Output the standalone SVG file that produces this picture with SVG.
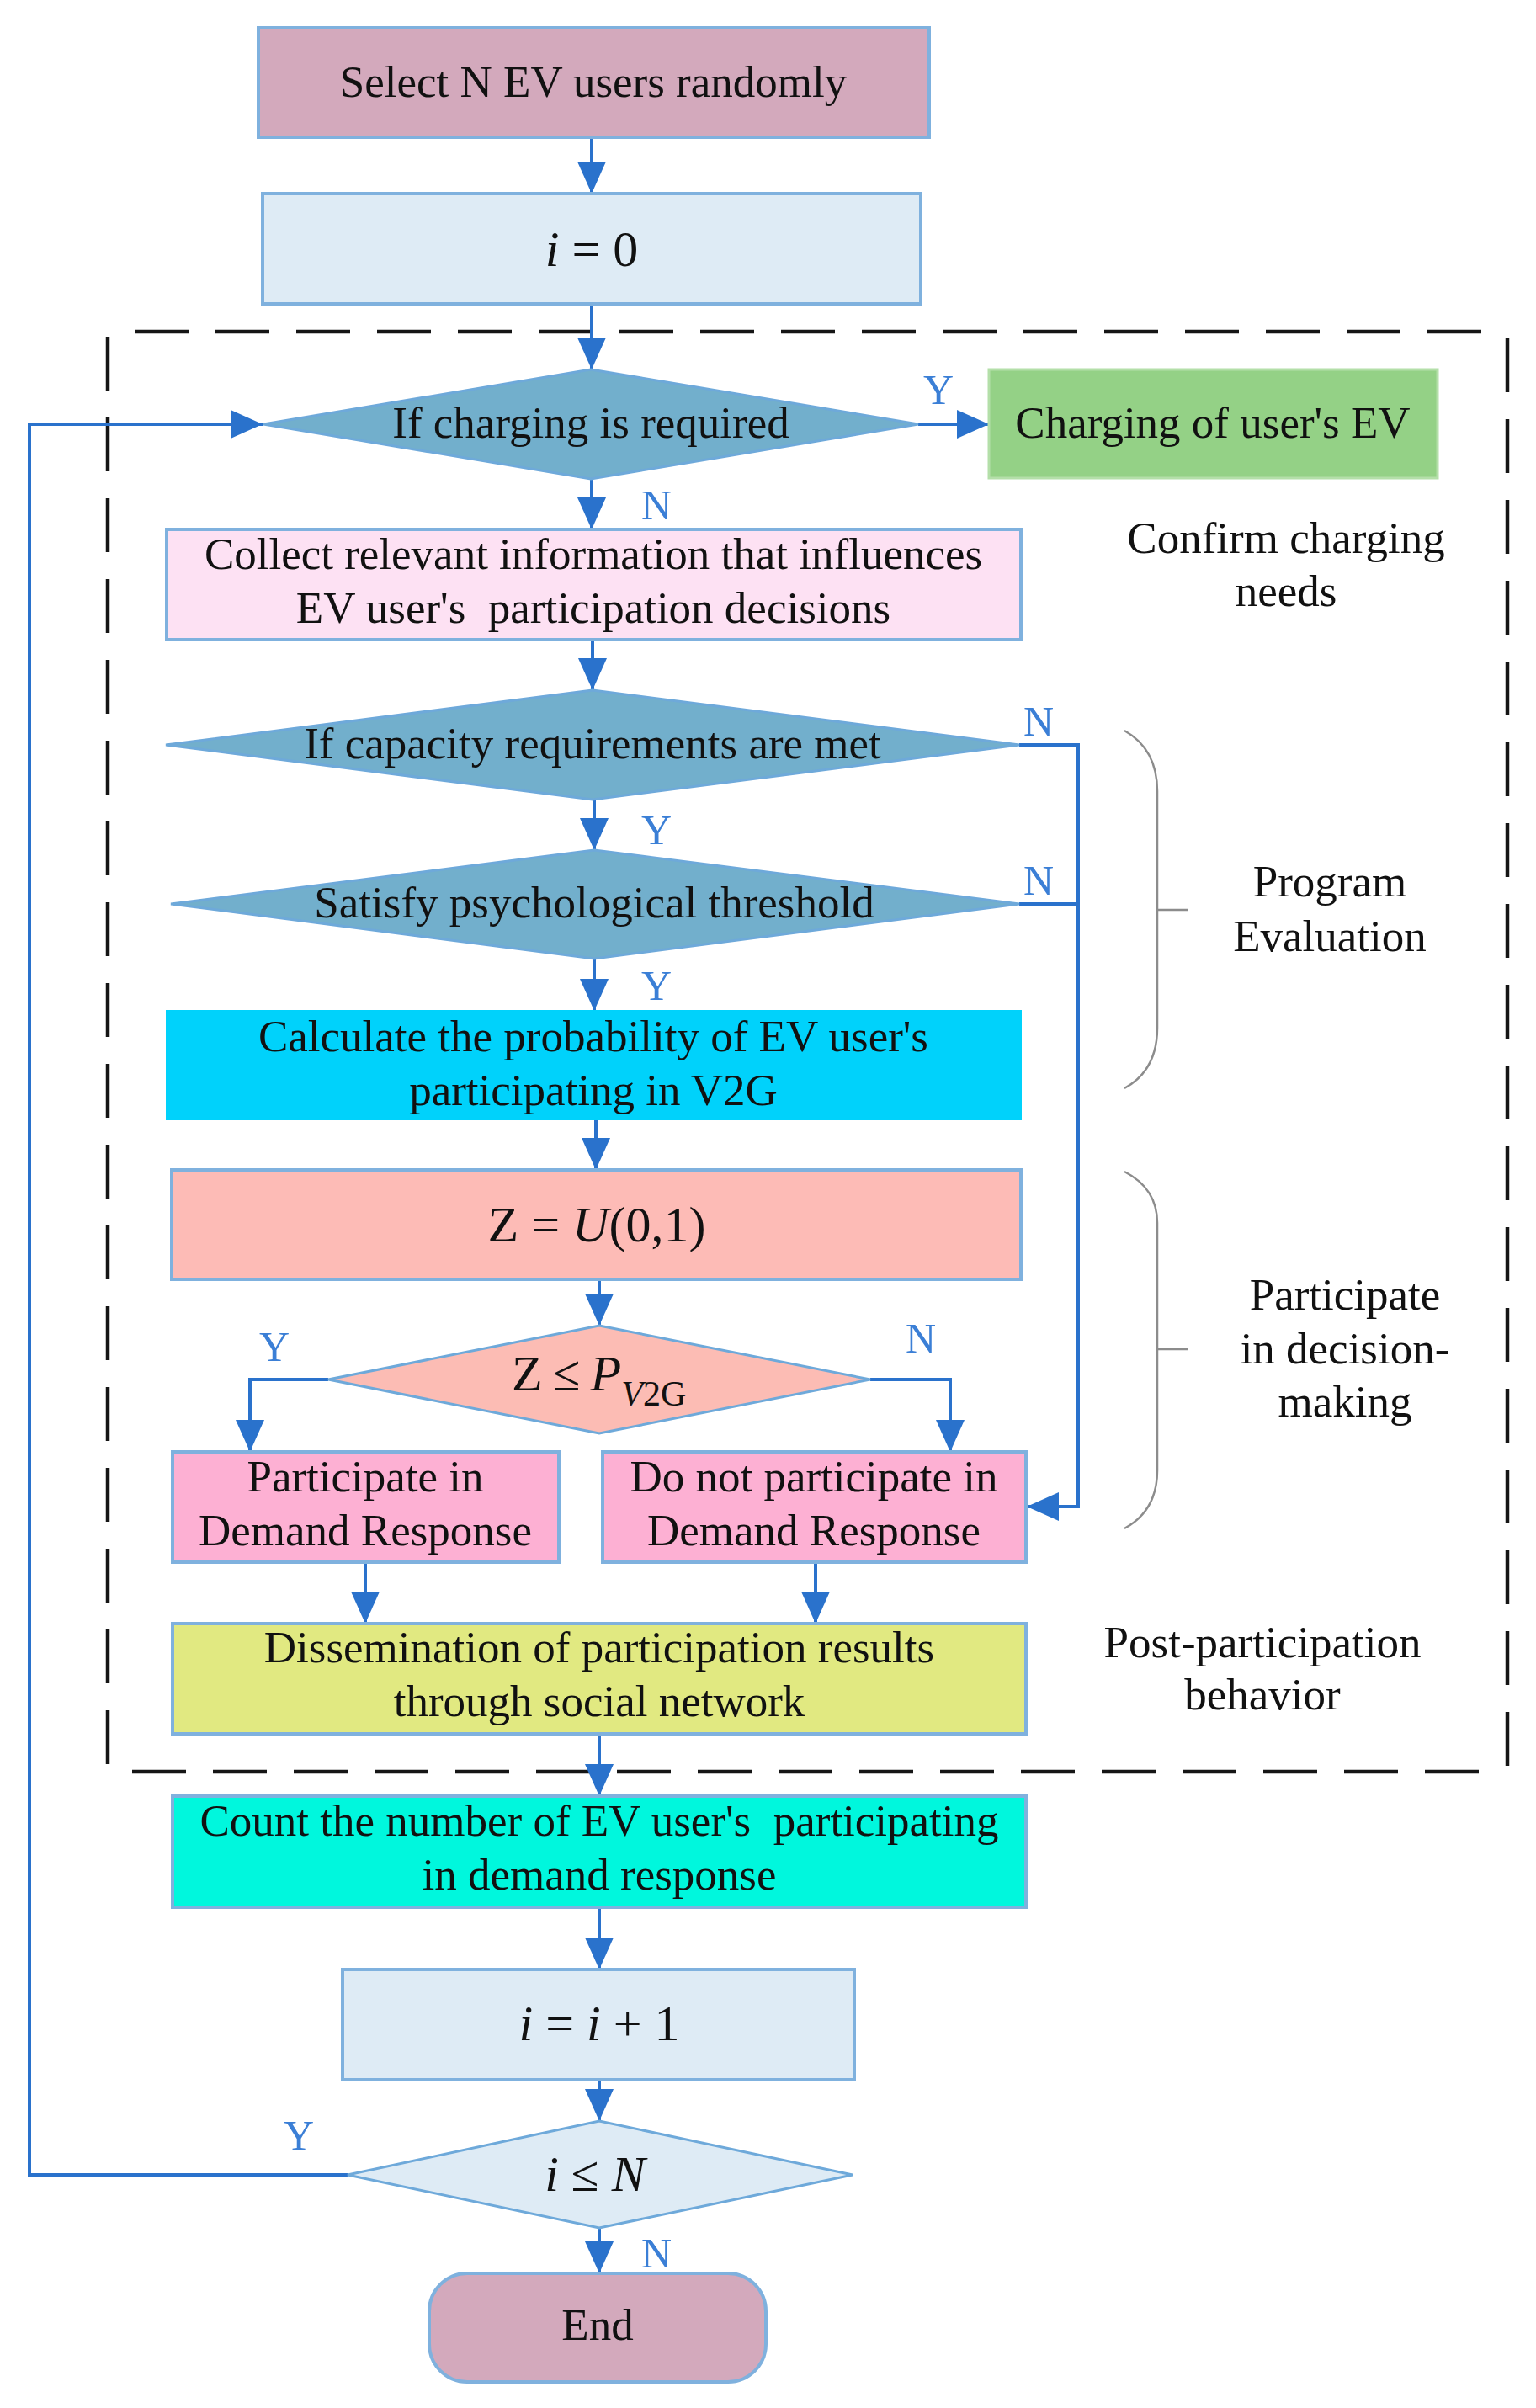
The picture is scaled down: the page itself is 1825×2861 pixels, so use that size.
<svg xmlns="http://www.w3.org/2000/svg" width="1825" height="2861" viewBox="0 0 1825 2861">
<defs>
<marker id="arr" markerUnits="userSpaceOnUse" markerWidth="40" markerHeight="36" viewBox="0 0 40 36" refX="38" refY="18" orient="auto">
<path d="M0,1 L38,18 L0,35 z" fill="#2a72cc"/>
</marker>
<style>
.t{font-family:"Liberation Serif","Times New Roman",serif;font-size:53px;fill:#111;text-anchor:middle}
.m{font-family:"Liberation Serif","Times New Roman",serif;font-size:60px;fill:#111;text-anchor:middle}
.lb{font-family:"Liberation Serif","Times New Roman",serif;font-size:50px;fill:#3b7fd6;text-anchor:middle}
.box{stroke:#7fb1de;stroke-width:4}
.dia{stroke:#6ea9da;stroke-width:3}
.c{fill:none;stroke:#2a72cc;stroke-width:4}
.ca{fill:none;stroke:#2a72cc;stroke-width:4;marker-end:url(#arr)}
.dash{fill:none;stroke:#151515;stroke-width:4.5;stroke-dasharray:64 32}
.brace{fill:none;stroke:#8c8c8c;stroke-width:2.5}
</style>
</defs>
<rect width="1825" height="2861" fill="#ffffff"/>

<g id="frame">
<line class="dash" x1="160" y1="394" x2="1767" y2="394"/>
<line class="dash" x1="128" y1="400" x2="128" y2="2096"/>
<line class="dash" x1="1791" y1="402" x2="1791" y2="2098"/>
<line class="dash" x1="157" y1="2105" x2="1758" y2="2105"/>
</g>

<g id="braces">
<path class="brace" d="M1336,868 Q1375,890 1375,940 L1375,1221 Q1375,1272 1336,1293 M1375,1081 L1412,1081"/>
<path class="brace" d="M1336,1392 Q1375,1412 1375,1453 L1375,1747 Q1375,1795 1336,1816 M1375,1603 L1412,1603"/>
</g>

<g id="connectors">
<line class="ca" x1="703" y1="163" x2="703" y2="230"/>
<line class="ca" x1="703" y1="361" x2="703" y2="439"/>
<line class="ca" x1="1091" y1="504" x2="1175" y2="504"/>
<polyline class="ca" points="413,2584 35,2584 35,504 312,504"/>
<line class="ca" x1="703" y1="569" x2="703" y2="629"/>
<line class="ca" x1="704" y1="760" x2="704" y2="820"/>
<line class="ca" x1="706" y1="950" x2="706" y2="1010"/>
<line class="ca" x1="706" y1="1139" x2="706" y2="1201"/>
<polyline class="ca" points="1211,885 1281,885 1281,1790 1220,1790"/>
<line class="c" x1="1211" y1="1074" x2="1281" y2="1074"/>
<line class="ca" x1="708" y1="1330" x2="708" y2="1390"/>
<line class="ca" x1="712" y1="1520" x2="712" y2="1575"/>
<polyline class="ca" points="390,1639 297,1639 297,1725"/>
<polyline class="ca" points="1034,1639 1129,1639 1129,1725"/>
<line class="ca" x1="434" y1="1856" x2="434" y2="1929"/>
<line class="ca" x1="969" y1="1856" x2="969" y2="1929"/>
<line class="ca" x1="712" y1="2060" x2="712" y2="2134"/>
<line class="ca" x1="712" y1="2266" x2="712" y2="2340"/>
<line class="ca" x1="712" y1="2471" x2="712" y2="2520"/>
<line class="ca" x1="712" y1="2647" x2="712" y2="2701"/>
<text class="lb" x="1115" y="480">Y</text>
<text class="lb" x="780" y="617">N</text>
<text class="lb" x="1234" y="874">N</text>
<text class="lb" x="780" y="1003">Y</text>
<text class="lb" x="1234" y="1063">N</text>
<text class="lb" x="780" y="1188">Y</text>
<text class="lb" x="326" y="1617">Y</text>
<text class="lb" x="1094" y="1607">N</text>
<text class="lb" x="355" y="2554">Y</text>
<text class="lb" x="780" y="2694">N</text>
</g>

<g id="start">
<rect class="box" x="307" y="33" width="797" height="130" fill="#d3a9bc"/>
<text class="t" x="705" y="115">Select N EV users randomly</text>
</g>

<g id="init">
<rect class="box" x="312" y="230" width="782" height="131" fill="#deebf5"/>
<text class="m" x="703" y="316"><tspan font-style="italic">i</tspan> = 0</text>
</g>

<g id="charge-check">
<polygon class="dia" points="702,439 1091,504 702,569 313,504" fill="#72afcc"/>
<text class="t" x="702" y="520">If charging is required</text>
</g>

<g id="charging">
<rect x="1175" y="439" width="533" height="129" fill="#94d186" stroke="#b4dfa9" stroke-width="3"/>
<text class="t" x="1441" y="520">Charging of user's EV</text>
</g>

<g id="collect">
<rect class="box" x="198" y="629" width="1015" height="131" fill="#fde1f3"/>
<text class="t" x="705" y="676">Collect relevant information that influences</text>
<text class="t" x="705" y="740">EV user's&#160; participation decisions</text>
</g>

<g id="label-confirm">
<text class="t" x="1528" y="657">Confirm charging</text>
<text class="t" x="1528" y="720">needs</text>
</g>

<g id="capacity-check">
<polygon class="dia" points="704,820 1211,885 704,950 197,885" fill="#72afcc"/>
<text class="t" x="704" y="901">If capacity requirements are met</text>
</g>

<g id="threshold-check">
<polygon class="dia" points="706,1010 1211,1074 706,1139 203,1074" fill="#72afcc"/>
<text class="t" x="706" y="1090">Satisfy psychological threshold</text>
</g>

<g id="label-program">
<text class="t" x="1580" y="1065">Program</text>
<text class="t" x="1580" y="1130">Evaluation</text>
</g>

<g id="calculate">
<rect x="198" y="1201" width="1015" height="129" fill="#00d2fb" stroke="#00d2fb" stroke-width="2"/>
<text class="t" x="705" y="1249">Calculate the probability of EV user's</text>
<text class="t" x="705" y="1313">participating in V2G</text>
</g>

<g id="random">
<rect class="box" x="204" y="1390" width="1009" height="130" fill="#fdbbb6"/>
<text class="m" x="709" y="1475">Z = <tspan font-style="italic">U</tspan>(0,1)</text>
</g>

<g id="compare">
<polygon class="dia" points="712,1575 1034,1639 712,1703 390,1639" fill="#fcbcb4"/>
<text class="m" x="608" y="1652" style="text-anchor:start">Z<tspan dx="12">≤</tspan><tspan dx="12" font-style="italic">P</tspan><tspan font-size="42" dy="18" font-style="italic">V</tspan><tspan font-size="42">2G</tspan></text>
</g>

<g id="label-decision">
<text class="t" x="1598" y="1556">Participate</text>
<text class="t" x="1598" y="1620">in decision-</text>
<text class="t" x="1598" y="1683">making</text>
</g>

<g id="participate">
<rect class="box" x="205" y="1725" width="459" height="131" fill="#fdb0d3"/>
<text class="t" x="434" y="1772">Participate in</text>
<text class="t" x="434" y="1836">Demand Response</text>
</g>

<g id="not-participate">
<rect class="box" x="716" y="1725" width="503" height="131" fill="#fdb0d3"/>
<text class="t" x="967" y="1772">Do not participate in</text>
<text class="t" x="967" y="1836">Demand Response</text>
</g>

<g id="disseminate">
<rect class="box" x="205" y="1929" width="1014" height="131" fill="#e1e981"/>
<text class="t" x="712" y="1975">Dissemination of participation results</text>
<text class="t" x="712" y="2039">through social network</text>
</g>

<g id="label-post">
<text class="t" x="1500" y="1969">Post-participation</text>
<text class="t" x="1500" y="2031">behavior</text>
</g>

<g id="count">
<rect class="box" x="205" y="2134" width="1014" height="132" fill="#00f7dd"/>
<text class="t" x="712" y="2181">Count the number of EV user's&#160; participating</text>
<text class="t" x="712" y="2245">in demand response</text>
</g>

<g id="increment">
<rect class="box" x="407" y="2340" width="608" height="131" fill="#deebf5"/>
<text class="m" x="712" y="2424"><tspan font-style="italic">i</tspan> = <tspan font-style="italic">i</tspan> + 1</text>
</g>

<g id="loop-check">
<polygon class="dia" points="712,2520 1013,2584 712,2647 413,2584" fill="#deebf5"/>
<text class="m" x="707" y="2603"><tspan font-style="italic">i</tspan> ≤ <tspan font-style="italic">N</tspan></text>
</g>

<g id="end">
<rect class="box" x="510" y="2701" width="400" height="129" rx="45" ry="45" fill="#d3a9bc"/>
<text class="t" x="710" y="2780">End</text>
</g>
</svg>
